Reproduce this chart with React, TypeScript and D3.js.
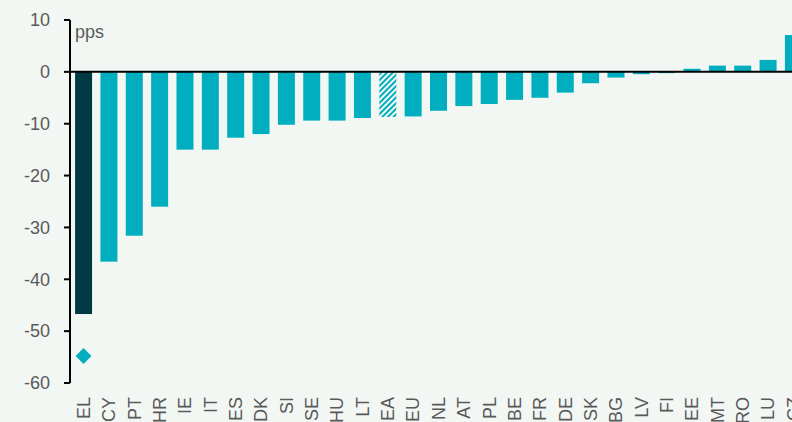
import React from "react";
import * as d3 from "d3";

const categories = ["EL","CY","PT","HR","IE","IT","ES","DK","SI","SE","HU","LT","EA","EU","NL","AT","PL","BE","FR","DE","SK","BG","LV","FI","EE","MT","RO","LU","CZ"];
const values = [-46.7,-36.6,-31.6,-26.0,-15.0,-15.0,-12.7,-12.0,-10.2,-9.4,-9.4,-8.9,-8.7,-8.6,-7.5,-6.6,-6.2,-5.4,-5.0,-4.0,-2.2,-1.1,-0.45,-0.25,0.6,1.2,1.2,2.3,7.1];
const highlightCategory = "EL";
const hatchedCategory = "EA";
const markerCategory = "EL";
const markerValue = -54.8;
const yTicks = [10,0,-10,-20,-30,-40,-50,-60];
const unitLabel = "pps";

const W = 792, H = 422;
const BG = "#f3f7f4";
const TEAL = "#00aebf";
const DARK = "#003a45";
const GREY = "#595959";

export default function App() {
  const y = d3.scaleLinear().domain([-60, 10]).range([383, 20]);
  const x = d3.scaleBand<string>().domain(categories).range([70, 807]).paddingInner(0.33).paddingOuter(0.2);
  const axisX = 70;
  return (
    <svg width={W} height={H} style={{ position: "absolute", left: 0, top: 0, background: BG, fontFamily: "Liberation Sans, Arial, sans-serif" }}>
      <defs>
        <pattern id="hatch" patternUnits="userSpaceOnUse" width="4" height="4" patternTransform="rotate(45)">
          <rect width="4" height="4" fill={BG} />
          <rect width="2" height="4" fill={TEAL} />
        </pattern>
      </defs>
      <rect width={W} height={H} fill={BG} />
      {categories.map((c, i) => {
        const v = values[i];
        const fill = c === highlightCategory ? DARK : c === hatchedCategory ? "url(#hatch)" : TEAL;
        return (
          <rect key={c} x={x(c)} width={x.bandwidth()} y={Math.min(y(v), y(0))} height={Math.abs(y(v) - y(0))} fill={fill} />
        );
      })}
      <path
        d={d3.symbol().type(d3.symbolDiamond2).size(160)() as string}
        transform={`translate(${(x(markerCategory) as number) + x.bandwidth() / 2},${y(markerValue)})`}
        fill={TEAL}
      />
      <line x1={axisX} x2={W} y1={y(0)} y2={y(0)} stroke="#000" strokeWidth={2} />
      <line x1={axisX} x2={axisX} y1={y(10)} y2={y(-60)} stroke="#000" strokeWidth={2} />
      {yTicks.map((t) => (
        <g key={t}>
          <line x1={axisX - 6} x2={axisX} y1={y(t)} y2={y(t)} stroke="#000" strokeWidth={2} />
          <text x={50} y={y(t)} dy="0.35em" textAnchor="end" fontSize={18} fill={GREY}>{t}</text>
        </g>
      ))}
      <text x={75} y={y(10) + 18} fontSize={18} fill={GREY}>{unitLabel}</text>
      {categories.map((c) => (
        <text key={c} transform={`translate(${(x(c) as number) + x.bandwidth() / 2},397) rotate(-90)`} dy="0.35em" textAnchor="end" fontSize={18} fill={GREY}>{c}</text>
      ))}
    </svg>
  );
}
